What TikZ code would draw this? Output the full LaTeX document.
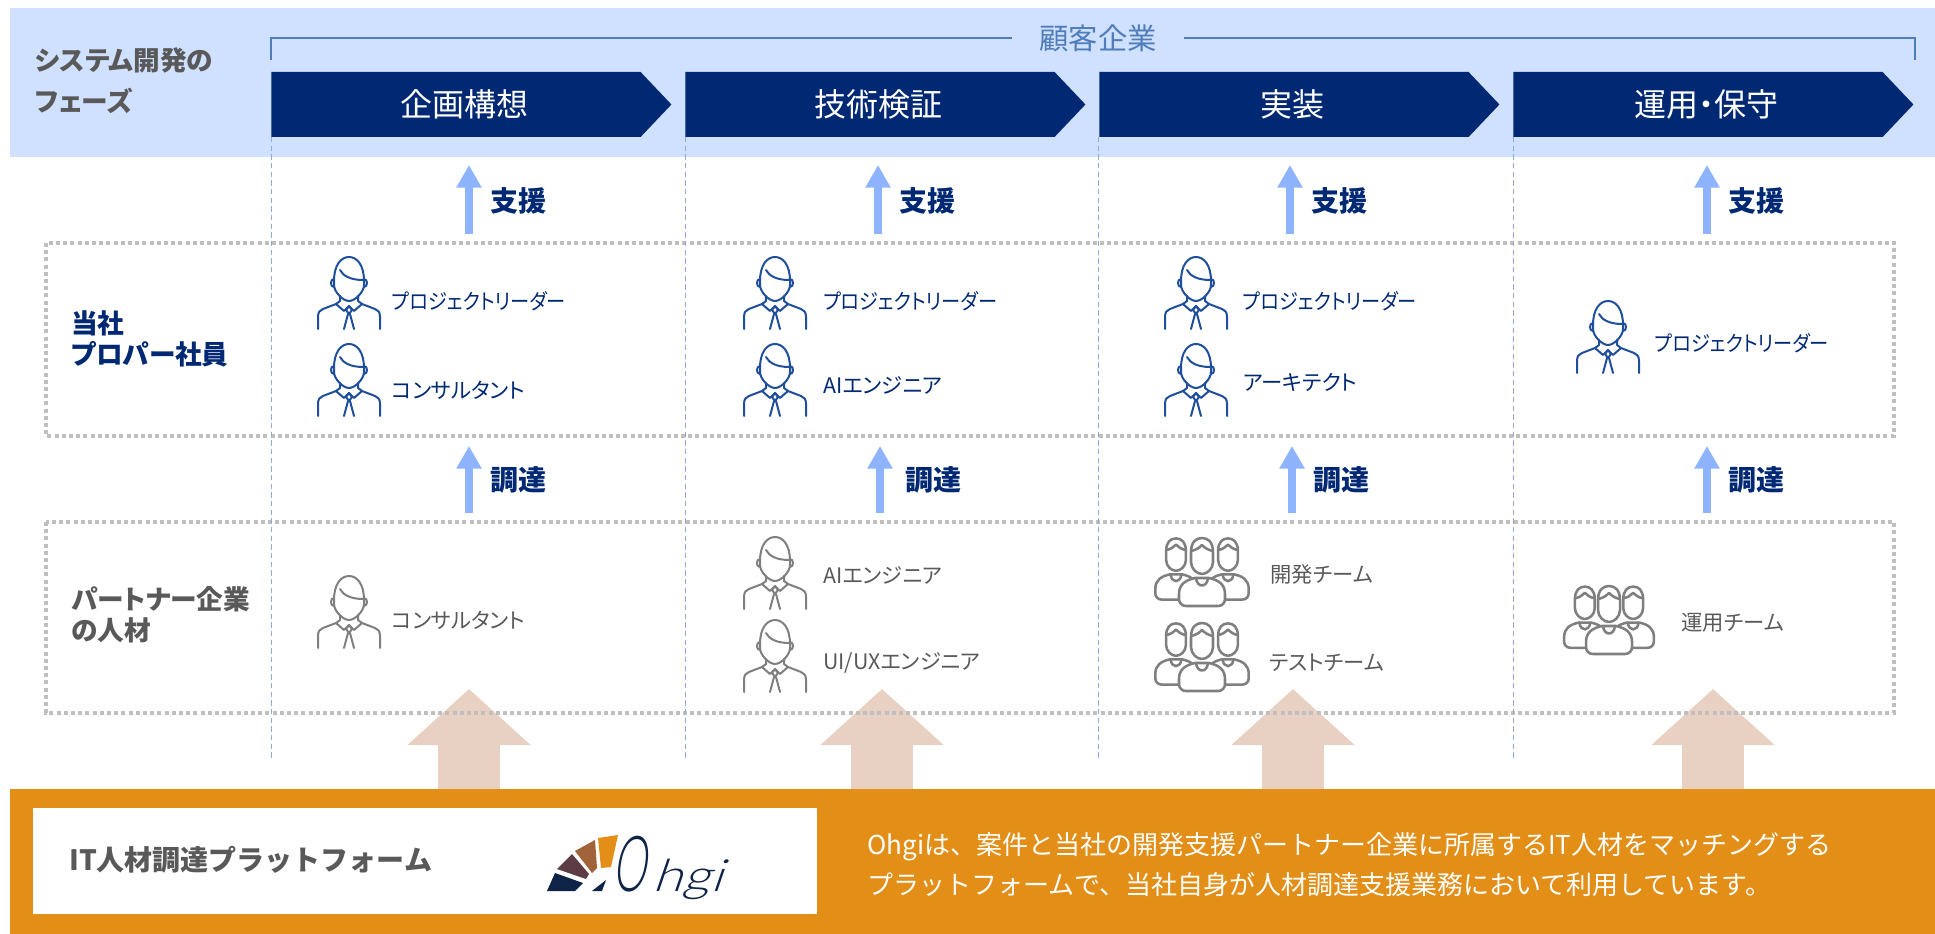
\documentclass[tikz,border=0pt]{standalone}
\usepackage{graphicx}
\usepackage{fontspec}
\setmainfont{Noto Sans CJK JP}[RawFeature=+palt]
\newfontfamily\fullfont{Noto Sans CJK JP}
\newfontfamily\narrowfont[FakeStretch=0.9,RawFeature=+palt]{Noto Sans CJK JP}
\newfontfamily\logofont[FakeSlant=0.28]{Lato Light}
\usepackage{xcolor}
\usepackage{tikz}
\usetikzlibrary{positioning,arrows.meta,shapes.symbols}

\definecolor{bandblue}{HTML}{D0E0FF}
\definecolor{navy}{HTML}{002873}
\definecolor{lightarrow}{HTML}{8FB4FF}
\definecolor{linkblue}{HTML}{4F7DBA}
\definecolor{dashblue}{HTML}{8FAADC}
\definecolor{dotgrey}{HTML}{BFBFBF}
\definecolor{textgrey}{HTML}{595959}
\definecolor{icongrey}{HTML}{7F7F7F}
\definecolor{iconblue}{HTML}{1F4E9C}
\definecolor{beige}{HTML}{E8D0C2}
\definecolor{ohgiorange}{HTML}{E28E17}
\definecolor{logonavy}{HTML}{0F2346}
\definecolor{logoplum}{HTML}{5E3C46}
\definecolor{logobrown}{HTML}{A0633A}

\begin{document}
\begin{tikzpicture}[x=0.75pt, y=-0.75pt,
 phasebox/.style={signal, signal to=east, signal from=nowhere, signal pointer angle=93, fill=navy, text=white, minimum width=300pt, minimum height=48.75pt, outer sep=0, font=\fontsize{24}{24}\selectfont},
 headtext/.style={anchor=west, align=left, font=\bfseries\fontsize{20}{23}\selectfont},
 actiontext/.style={text=navy, font=\bfseries\fontsize{21}{21}\selectfont},
 bluetext/.style={text=navy, font=\fontsize{16}{16}\selectfont},
 greytext/.style={text=textgrey, font=\fontsize{16}{16}\selectfont},
 leadtext/.style={text=navy, font=\narrowfont\fontsize{16}{16}\selectfont},
 helparrow/.style={draw=lightarrow, line width=6pt, -{Triangle[width=18pt, length=17pt]}},
 sourcearrow/.style={draw=beige, line width=46.5pt, -{Triangle[width=90pt, length=42pt]}},
 dotbox/.style={draw=dotgrey, line width=3pt, dash pattern=on 3pt off 2.4pt},
 phaseline/.style={draw=dashblue, line width=0.7pt, dash pattern=on 4pt off 2.5pt},
 iconline/.style={line width=1.5pt, line join=round, line cap=round},
 teamline/.style={line width=1.9pt, line join=round, line cap=round},
 pics/person/.style={code={
   \draw[iconline, #1] (-15,-12) .. controls (-15,-28) and (-8,-36) .. (0,-36) .. controls (8,-36) and (15,-28) .. (15,-12) -- (15,-8) .. controls (15,-1) and (6,8) .. (0,8) .. controls (-6,8) and (-15,-1) .. (-15,-8) -- cycle;
   \draw[iconline, #1] (-9,-23) .. controls (-6,-17) and (2,-13) .. (14,-13);
   \draw[iconline, #1] (-15,-14) .. controls (-19,-14) and (-19,-6) .. (-15,-6);
   \draw[iconline, #1] (15,-14) .. controls (19,-14) and (19,-6) .. (15,-6);
   \draw[iconline, #1] (-9,3) -- (-9,8) -- (-13,11) -- (-5,18) -- (0,13) -- (5,18) -- (13,11) -- (9,8) -- (9,3);
   \draw[iconline, #1] (-31,36) -- (-31,24) .. controls (-31,19) and (-29,17) .. (-26,16) -- (-13,11);
   \draw[iconline, #1] (31,36) -- (31,24) .. controls (31,19) and (29,17) .. (26,16) -- (13,11);
   \draw[iconline, #1] (0,13) -- (-3,17) -- (0,21) -- (3,17) -- cycle;
   \draw[iconline, #1] (-1,21) -- (-5,36);
   \draw[iconline, #1] (1,21) -- (5,36);
 }},
 pics/member/.style={code={
   \draw[teamline, #1, fill=white] (-23,22) .. controls (-23,12) and (-16,8) .. (-7,6) -- (7,6) .. controls (16,8) and (23,12) .. (23,22) -- (23,27) .. controls (23,31) and (20,34) .. (16,34) -- (-16,34) .. controls (-20,34) and (-23,31) .. (-23,27) -- cycle;
   \draw[teamline, #1] (-6,6) .. controls (-5,16) and (5,16) .. (6,6);
   \draw[teamline, #1, fill=white] (-11,-20) .. controls (-11,-30) and (-6,-34) .. (0,-34) .. controls (6,-34) and (11,-30) .. (11,-20) -- (11,-10) .. controls (11,-3) and (5,2) .. (0,2) .. controls (-5,2) and (-11,-3) .. (-11,-10) -- cycle;
   \draw[teamline, #1] (-11,-21) .. controls (-6,-22) and (-3,-24) .. (0,-27) .. controls (3,-24) and (6,-22) .. (11,-21);
 }},
 pics/team/.style={code={
   \pic[scale=0.9] at (-26,-3) {member=#1};
   \pic[scale=0.9] at (26,-3) {member=#1};
   \pic at (0,0) {member=#1};
 }}
]

\tikzstyle{every node}=[inner sep=0pt]

\useasboundingbox (0,0) rectangle (1935,934);

%Coordinates
\coordinate (bracketl) at (271,60);
\coordinate (bracketr) at (1915,60);
\coordinate (line1t) at (271,137);
\coordinate (line1b) at (271,759);
\coordinate (line2t) at (685,137);
\coordinate (line2b) at (685,759);
\coordinate (line3t) at (1098,137);
\coordinate (line3b) at (1098,759);
\coordinate (line4t) at (1513,137);
\coordinate (line4b) at (1513,759);

\coordinate (help1s) at (469,234);
\coordinate (help1e) at (469,165);
\coordinate (help2s) at (878,234);
\coordinate (help2e) at (878,165);
\coordinate (help3s) at (1290,234);
\coordinate (help3e) at (1290,165);
\coordinate (help4s) at (1707,234);
\coordinate (help4e) at (1707,165);
\coordinate (get1s) at (469,513);
\coordinate (get1e) at (469,446);
\coordinate (get2s) at (880,513);
\coordinate (get2e) at (880,446);
\coordinate (get3s) at (1292,513);
\coordinate (get3e) at (1292,446);
\coordinate (get4s) at (1707,513);
\coordinate (get4e) at (1707,446);
\coordinate (src1s) at (469,795);
\coordinate (src1e) at (469,689);
\coordinate (src2s) at (882,795);
\coordinate (src2e) at (882,689);
\coordinate (src3s) at (1293,795);
\coordinate (src3e) at (1293,689);
\coordinate (src4s) at (1713,795);
\coordinate (src4e) at (1713,689);

\coordinate (lead1) at (349,293);
\coordinate (cons1) at (349,380);
\coordinate (lead2) at (775,293);
\coordinate (aieng1) at (775,380);
\coordinate (lead3) at (1196,293);
\coordinate (arch) at (1196,380);
\coordinate (lead4) at (1608,337);
\coordinate (cons2) at (349,612);
\coordinate (aieng2) at (775,573);
\coordinate (uieng) at (775,656);
\coordinate (devteam) at (1202,572);
\coordinate (testteam) at (1202,657);
\coordinate (opsteam) at (1609,620);

%Panels
\fill[bandblue] (10,8) rectangle (1935,157);
\draw[sourcearrow] (src1s) -- (src1e);
\draw[sourcearrow] (src2s) -- (src2e);
\draw[sourcearrow] (src3s) -- (src3e);
\draw[sourcearrow] (src4s) -- (src4e);
\fill[ohgiorange] (10,789) rectangle (1935,934);
\fill[white] (33,808) rectangle (817,914);
\draw[dotbox] (46,243) rectangle (1894,436);
\draw[dotbox] (46,522) rectangle (1894,713);

%Nodes
\node[text=linkblue, inner xsep=20pt, font=\fontsize{22}{22}\selectfont] (customer) at (1098,38) {顧客企業};
\node[headtext, text=textgrey, font=\bfseries\fontsize{20}{30.5}\selectfont] (phasehead) at (35,81) {システム開発の\\フェーズ};
\node[phasebox] (plan) at (456,104.5) {\hspace*{12pt}企画構想};
\node[phasebox] (poc) at (870,104.5) {\hspace*{12pt}技術検証};
\node[phasebox] (build) at (1284,104.5) {\hspace*{12pt}実装};
\node[phasebox] (ops) at (1698,104.5) {\hspace*{12pt}運用・保守};

\node[actiontext] (help1) [right=16pt of help1s, yshift=25pt] {支援};
\node[actiontext] (help2) [right=16pt of help2s, yshift=25pt] {支援};
\node[actiontext] (help3) [right=16pt of help3s, yshift=25pt] {支援};
\node[actiontext] (help4) [right=16pt of help4s, yshift=25pt] {支援};
\node[actiontext] (get1) [right=16pt of get1s, yshift=25pt] {調達};
\node[actiontext] (get2) [right=19pt of get2s, yshift=25pt] {調達};
\node[actiontext] (get3) [right=16pt of get3s, yshift=25pt] {調達};
\node[actiontext] (get4) [right=16pt of get4s, yshift=25pt] {調達};

\node[headtext, text=navy] (ownhead) at (71,339) {当社\\プロパー社員};
\node[headtext, text=textgrey] (partnerhead) at (71,615) {パートナー企業\\の人材};

\pic at (lead1) {person=iconblue};
\pic at (cons1) {person=iconblue};
\pic at (lead2) {person=iconblue};
\pic at (aieng1) {person=iconblue};
\pic at (lead3) {person=iconblue};
\pic at (arch) {person=iconblue};
\pic at (lead4) {person=iconblue};
\pic at (cons2) {person=icongrey};
\pic at (aieng2) {person=icongrey};
\pic at (uieng) {person=icongrey};
\pic at (devteam) {team=icongrey};
\pic at (testteam) {team=icongrey};
\pic[scale=0.93] at (opsteam) {team=icongrey};

\node[leadtext] (lead1txt) [right=32pt of lead1, yshift=-6pt] {プロジェクトリーダー};
\node[bluetext] (cons1txt) [right=32pt of cons1, yshift=-8pt] {コンサルタント};
\node[leadtext] (lead2txt) [right=36pt of lead2, yshift=-6pt] {プロジェクトリーダー};
\node[bluetext] (aieng1txt) [right=36pt of aieng1, yshift=-4pt] {AIエンジニア};
\node[leadtext] (lead3txt) [right=35pt of lead3, yshift=-6pt] {プロジェクトリーダー};
\node[bluetext] (archtxt) [right=35pt of arch, yshift=-2pt] {アーキテクト};
\node[leadtext] (lead4txt) [right=35pt of lead4, yshift=-5pt] {プロジェクトリーダー};
\node[greytext] (cons2txt) [right=32pt of cons2, yshift=-6pt] {コンサルタント};
\node[greytext] (aieng2txt) [right=36pt of aieng2, yshift=-2pt] {AIエンジニア};
\node[greytext] (uiengtxt) [right=36pt of uieng, yshift=-5pt] {UI/UXエンジニア};
\node[greytext] (devtxt) [right=51pt of devteam, yshift=-2pt] {開発チーム};
\node[greytext] (testtxt) [right=50pt of testteam, yshift=-4pt] {テストチーム};
\node[greytext] (opstxt) [right=54pt of opsteam, yshift=-2pt] {運用チーム};

\node[anchor=west, text=textgrey, font=\fullfont\bfseries\fontsize{21}{21}\selectfont] (platform) at (69,860) {IT人材調達プラットフォーム};
\node[anchor=west, align=left, text=white, font=\fullfont\fontsize{19.5}{30}\selectfont] (about) at (867,865) {Ohgiは、案件と当社の開発支援パートナー企業に所属するIT人材をマッチングする\\プラットフォームで、当社自身が人材調達支援業務において利用しています。};

%Logo
\fill[logonavy] (547,891) -- (555,873) -- (583,883) -- (575,891) -- cycle;
\fill[logoplum] (557,869) -- (572,854) -- (589,874) -- (586,879) -- cycle;
\fill[logobrown] (575,851) -- (595,840) -- (597,868) -- (592,873) -- cycle;
\fill[ohgiorange] (598,838) -- (618,835) -- (611,867) -- (601,868) -- cycle;
\fill[logonavy] (592,891) -- (606,880) -- (602,891) -- cycle;
\node[anchor=base west, text=logonavy, font=\logofont\fontsize{29}{29}\selectfont] (logo) at (612,891) {\scalebox{1.1}[2]{O}\hspace{5pt}\scalebox{1.4}[1.15]{hgi}};

%Lines
\draw[linkblue, line width=1.5pt] (bracketl) |- (customer.west);
\draw[linkblue, line width=1.5pt] (customer.east) -| (bracketr);
\draw[phaseline] (line1t) -- (line1b);
\draw[phaseline] (line2t) -- (line2b);
\draw[phaseline] (line3t) -- (line3b);
\draw[phaseline] (line4t) -- (line4b);
\draw[helparrow] (help1s) -- (help1e);
\draw[helparrow] (help2s) -- (help2e);
\draw[helparrow] (help3s) -- (help3e);
\draw[helparrow] (help4s) -- (help4e);
\draw[helparrow] (get1s) -- (get1e);
\draw[helparrow] (get2s) -- (get2e);
\draw[helparrow] (get3s) -- (get3e);
\draw[helparrow] (get4s) -- (get4e);

\end{tikzpicture}
\end{document}
